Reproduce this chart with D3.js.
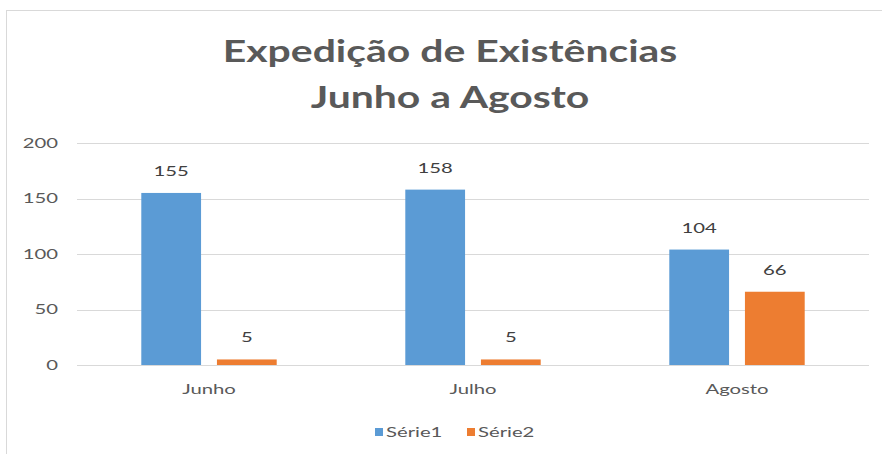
<!DOCTYPE html>
<html>
<head>
<meta charset="utf-8">
<script src="https://cdn.jsdelivr.net/npm/d3@7"></script>
<style>
  body { margin: 0; background: #fff; }
  svg { display: block; }
</style>
</head>
<body>
<svg id="chart"></svg>
<script>
var categories = ['Junho', 'Julho', 'Agosto']
var seriesNames = ['Série1', 'Série2']
var serie1 = [155, 158, 104]
var serie2 = [5, 5, 66]
var yTicks = [0, 50, 100, 150, 200]
var titleLines = ['Expedição de Existências', 'Junho a Agosto']

var colors = ['#5B9BD5', '#ED7D31']
var width = 882, height = 454
var margin = {left: 77, right: 13, top: 143, bottom: 89}
var font = 'Lato, "Open Sans", sans-serif'
// the picture is stretched sideways, so text gets a horizontal scale
var sx = 1.45, titleSx = 1.32

var svg = d3.select('#chart').attr('width', width).attr('height', height)

function place(x, y, s){ return `translate(${x},${y}) scale(${s || sx},1)` }

// chart frame
svg.append('rect')
  .attr('x', 6.5).attr('y', 10.5)
  .attr('width', width).attr('height', height)
  .attr('fill', 'none').attr('stroke', '#d9d9d9')

var x = d3.scaleBand().domain(categories)
  .range([margin.left, width - margin.right])

var x1 = d3.scaleBand().domain(seriesNames)
  .range([0, x.bandwidth()]).paddingInner(0.21).paddingOuter(0.85)

var y = d3.scaleLinear().domain([0, 200])
  .range([height - margin.bottom, margin.top])

// gridlines
svg.append('g').selectAll('line').data(yTicks).join('line')
  .attr('x1', margin.left).attr('x2', width - margin.right)
  .attr('y1', d => Math.round(y(d)) + .5).attr('y2', d => Math.round(y(d)) + .5)
  .attr('stroke', '#d9d9d9').attr('stroke-width', 1)

// y tick labels
svg.append('g').selectAll('text').data(yTicks).join('text')
  .attr('transform', d => place(58, y(d)))
  .attr('dy', '0.35em').attr('text-anchor', 'end')
  .attr('font-family', font).attr('font-size', 14).attr('fill', '#595959')
  .text(d => d)

var rows = categories.map((c, i) => ({cat: c, values: [serie1[i], serie2[i]]}))

var groups = svg.append('g').selectAll('g').data(rows).join('g')
  .attr('transform', d => `translate(${x(d.cat)},0)`)

var bars = groups.selectAll('g').data(d => d.values.map((v, i) => ({v, s: seriesNames[i], i})))
  .join('g')

bars.append('rect')
  .attr('x', d => x1(d.s)).attr('width', x1.bandwidth())
  .attr('y', d => y(d.v)).attr('height', d => y(0) - y(d.v))
  .attr('fill', d => colors[d.i])

bars.append('text')
  .attr('transform', d => place(x1(d.s) + x1.bandwidth() / 2, y(d.v) - 17))
  .attr('text-anchor', 'middle')
  .attr('font-family', font).attr('font-size', 14).attr('fill', '#404040')
  .text(d => d.v)

// category labels
svg.append('g').selectAll('text').data(categories).join('text')
  .attr('transform', d => place(x(d) + x.bandwidth() / 2, y(0) + 29))
  .attr('text-anchor', 'middle')
  .attr('font-family', font).attr('font-size', 14).attr('fill', '#595959')
  .text(d => d)

// title
svg.append('g').selectAll('text').data(titleLines).join('text')
  .attr('transform', (d, i) => place(450, 62 + i * 46, titleSx))
  .attr('text-anchor', 'middle')
  .attr('font-family', font).attr('font-size', 31).attr('font-weight', 'bold')
  .attr('fill', '#595959')
  .text(d => d)

// legend
var legend = svg.append('g').selectAll('g').data(seriesNames).join('g')
  .attr('transform', (d, i) => `translate(${375 + i * 92},432)`)
legend.append('rect')
  .attr('x', 0).attr('y', -4).attr('width', 8).attr('height', 8)
  .attr('fill', (d, i) => colors[i])
legend.append('text')
  .attr('transform', place(11, 0))
  .attr('dy', '0.35em')
  .attr('font-family', font).attr('font-size', 14).attr('fill', '#595959')
  .text(d => d)
</script>
</body>
</html>
